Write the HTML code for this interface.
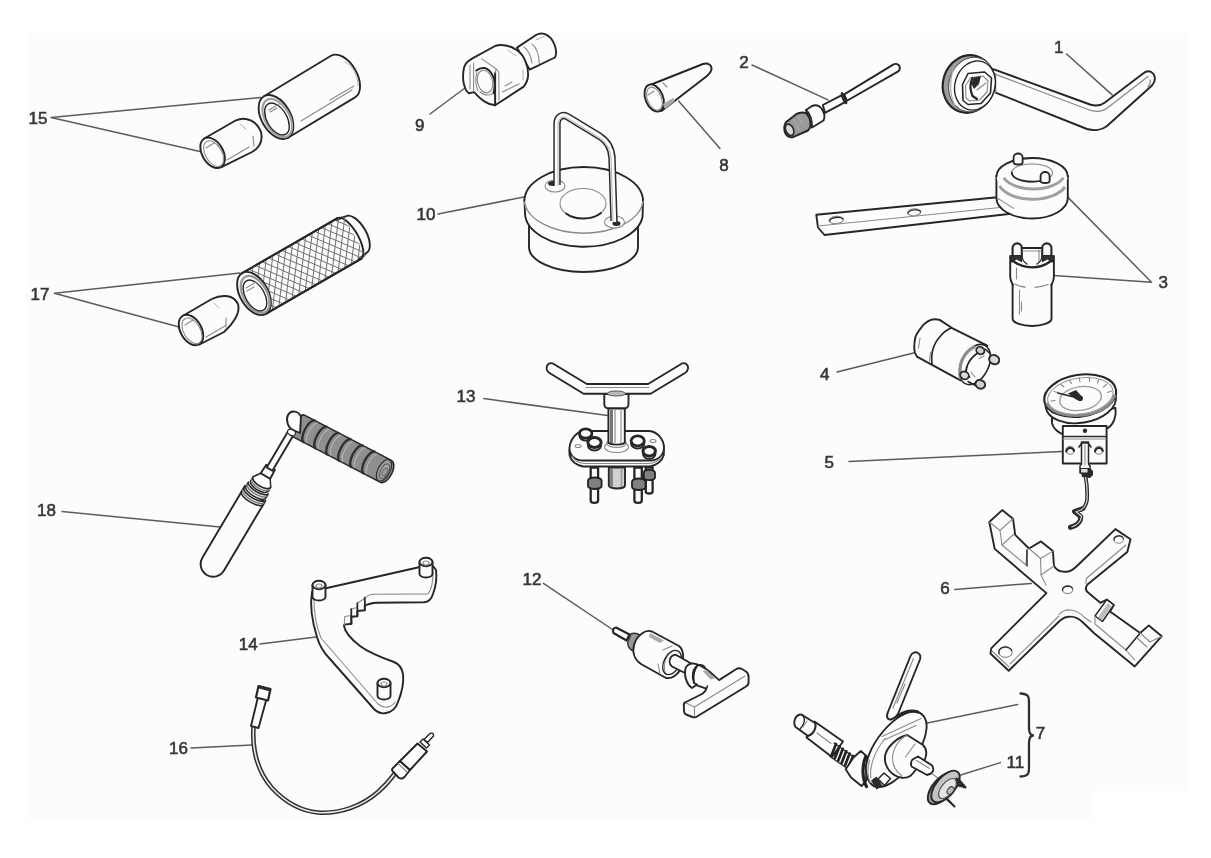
<!DOCTYPE html>
<html><head><meta charset="utf-8"><title>Workshop service tools</title>
<style>
html,body{margin:0;padding:0;background:#fff;}
body{width:1211px;height:858px;overflow:hidden;position:relative;font-family:"Liberation Sans",sans-serif;}
#panel{position:absolute;left:27px;top:33px;width:1160px;height:786px;background:#fcfcfc;clip-path:polygon(0 0,100% 0,100% 758px,1066px 758px,1066px 100%,0 100%);}
svg{position:absolute;left:0;top:0;filter:blur(0.5px);}
.k{fill:none;stroke:#262626;stroke-width:1.9;stroke-linecap:round;stroke-linejoin:round;}
.kf{fill:#fcfcfc;stroke:#262626;stroke-width:1.9;stroke-linecap:round;stroke-linejoin:round;}
.kt{fill:none;stroke:#303030;stroke-width:1.2;stroke-linecap:round;stroke-linejoin:round;}
.ktf{fill:#fcfcfc;stroke:#303030;stroke-width:1.2;stroke-linecap:round;stroke-linejoin:round;}
.g{fill:none;stroke:#8a8a8a;stroke-width:1.1;stroke-linecap:round;stroke-linejoin:round;}
.gf{fill:#fcfcfc;stroke:#8a8a8a;stroke-width:1.1;}
.gl{fill:none;stroke:#b0b0b0;stroke-width:1;stroke-linecap:round;}
.ld{fill:none;stroke:#5c5c5c;stroke-width:1.5;stroke-linecap:round;}
.d{fill:#2a2a2a;stroke:none;}
.gr{fill:#8f8f8f;stroke:#262626;stroke-width:1.6;stroke-linejoin:round;}
text{font-family:"Liberation Sans",sans-serif;font-size:17px;fill:#383838;stroke:#383838;stroke-width:0.6;}
</style></head><body>
<div id="panel"></div>
<svg width="1211" height="858" viewBox="0 0 1211 858">
<!-- 00_labels.svg -->
<g id="labels">
<text x="28.5" y="124.4">15</text>
<text x="30.5" y="299.6">17</text>
<text x="37" y="515.6">18</text>
<text x="238.8" y="650">14</text>
<text x="169" y="753.5">16</text>
<text x="415" y="130.5">9</text>
<text x="416.5" y="219.5">10</text>
<text x="719.2" y="171">8</text>
<text x="739.2" y="68">2</text>
<text x="1054" y="52.8">1</text>
<text x="1158.4" y="287.6">3</text>
<text x="820" y="379.5">4</text>
<text x="824.5" y="468.3">5</text>
<text x="940.3" y="594.2">6</text>
<text x="1035.8" y="739.1">7</text>
<text x="1006.5" y="767.6">11</text>
<text x="522.5" y="584.7">12</text>
<text x="456.5" y="401.6">13</text>
</g>
<g id="leaders" class="ld">
<path d="M51,117.4 L261,97.5 M51,117.4 L200,151.5"/>
<path d="M54.4,293.2 L240,273 M54.4,293.2 L179,327"/>
<path d="M62,511.4 L220,527"/>
<path d="M260,644 L316,637"/>
<path d="M191,748 L252,745"/>
<path d="M430,114 L465,88"/>
<path d="M438,214 L524,197"/>
<path d="M678.6,101 L720,148.5"/>
<path d="M752,65 L828,99.9"/>
<path d="M1066.6,54 L1112.2,94.9"/>
<path d="M1151.5,282.2 L1054,275.5 M1151.5,282.2 L1068,197.4"/>
<path d="M837,372 L915.5,352.4"/>
<path d="M849,461.5 L1061.8,451.6"/>
<path d="M954.8,589.4 L1031.3,583.4"/>
<path d="M927.3,723 L1017.7,704.4"/>
<path d="M960.8,775 L1000.4,762.6"/>
<path d="M543.4,583.4 L614,630.5"/>
<path d="M483.9,398.6 L607.6,415.5"/>
</g>
<path class="kt" style="stroke-width:2.3" d="M1020.5,693.5 C1029,694 1029,697 1029,703 L1029,728 C1029,733 1030,735 1033,735.5 C1030,736 1029,738 1029,743 L1029,767 C1029,773 1029,776 1020.5,776.5"/>

<!-- 01.svg -->
<g id="t01">
<!-- handle -->
<path class="kf" d="M992.5,68.8 L1090,104.5 C1096,106.5 1101,105.5 1105,102.5 L1143,73.5 C1147,70.5 1151,71 1153.5,74 C1155.5,77.5 1155,82 1152,85.5 L1107,126 C1102,130 1094,131 1087,129 L995.5,92.6 Z"/>
<path class="g" d="M996.4,74.7 L1088,109.5 C1096,112.5 1103,111.5 1108,107.5 L1148,76.5 M1150,80 C1151,83 1150,85 1148,87 M995.5,73.7 L995.5,92.6" style="stroke-width:1.3"/>
<!-- ring head -->
<ellipse cx="968.5" cy="84" rx="25.5" ry="29" transform="rotate(17 968.5 84)" style="fill:#9c9c9c;stroke:#262626;stroke-width:2.2"/>
<ellipse cx="972" cy="84.5" rx="23" ry="27.5" transform="rotate(17 972 84.5)" style="fill:#fcfcfc;stroke:#555;stroke-width:1.1"/>
<path class="g" d="M957,63 C950,72 948,92 955,106 " style="stroke:#aaa"/>
<ellipse class="k" cx="975" cy="85.5" rx="20" ry="25" transform="rotate(17 975 85.5)" style="stroke-width:1.4"/>
<!-- hex hole -->
<path class="kf" d="M968,73.5 L984.5,72 L991.5,78 L990.5,93 L981,103.5 L968,104.5 L963,100.5 L962.5,84.5 Z" style="stroke-width:1.6"/>
<path class="g" d="M971,77.5 L983,76 L988,81 L987,92 L979.5,100 L969.5,101 L966,98 L965.5,85.5 Z"/>
<path class="k" d="M972.5,78 C970,83 970,90 972.5,96 L977,99" style="stroke-width:2.2"/>
<path class="d" d="M973.5,77.5 L981,76 L979,84 L974,89 L971.5,84 Z"/>
<path class="g" d="M977,90 L986,83"/>
</g>

<!-- 02.svg -->
<g id="t02">
<!-- upper rod -->
<path class="kf" d="M844.2,94.4 L893.6,64.4 C896,63.2 898.6,64 899.6,66.5 C900.2,68.5 899.6,70.3 898.2,71.4 L847,100.8 Z"/>
<!-- lower rod -->
<path class="kf" d="M822.8,105 L841.4,95.4 L844.6,102.3 L825,112.8 Z"/>
<path class="k" d="M842,93.5 C844.5,96 846,99.5 846,103" style="stroke-width:2.6"/>
<!-- collar -->
<path class="kf" d="M806,110 L812,106 C816,104.5 820,106 822.5,110 C824.5,113.5 825,117.5 823.5,120.5 L812,127.5 Z"/>
<!-- thread -->
<path d="M786.1,122 L796.2,114.2 C799,112.5 803,112.3 806,113 C809,116 811,121 810.5,126 C810,128 809,129.5 808,130.5 L793,137.2 C790,137.8 787,136 785.5,133.5 C784,130 784,125 786.1,122 Z" style="fill:#9a9a9a;stroke:#262626;stroke-width:2;stroke-linejoin:round"/>
<path class="k" d="M806,110 C810,113 812.5,120 812,127.5" style="stroke-width:1.6"/>
<ellipse cx="789.6" cy="129.8" rx="3.8" ry="6" transform="rotate(-25 789.6 129.8)" style="fill:#d8d8d8;stroke:#262626;stroke-width:1.6"/>
<path class="gl" d="M798,117 L803,125 M794,120 L799,129"/>
</g>

<!-- 03.svg -->
<g id="t03">
<!-- bar -->
<path class="kf" d="M816.3,214.8 L1000,197 L1013,213.5 L824.5,235 L818,227.5 Z"/>
<path class="g" d="M818,226 L1010,206.5"/>
<ellipse class="gf" cx="836.2" cy="220" rx="7.2" ry="3.6" transform="rotate(-5 836.2 220)"/>
<ellipse class="gf" cx="914.2" cy="212.3" rx="6.6" ry="3.4" transform="rotate(-5 914.2 212.3)"/>
<path class="k" d="M829.5,221 A7.2,3.6 -5 0 1 843,219" style="stroke-width:1.2"/>
<path class="k" d="M908,213.2 A6.6,3.4 -5 0 1 920.5,211.5" style="stroke-width:1.2"/>
<!-- ring head -->
<path class="kf" d="M996.4,176 L996.4,198 A35.7,20.5 0 0 0 1067.8,198 L1067.8,176 Z"/>
<path class="g" d="M1013.7,208.4 L998,198.5" />
<ellipse cx="1032.1" cy="176" rx="35.7" ry="18.3" style="fill:#fcfcfc;stroke:none"/>
<path class="k" d="M996.4,176.5 A35.7,18.5 0 0 1 1067.8,176.5"/>
<path d="M1003.8,177.7 A31.4,16.6 0 0 0 1063.3,177.7" style="fill:none;stroke:#a0a0a0;stroke-width:2.8"/>
<path d="M999.5,186 A35.3,20.5 0 0 0 1065,187" style="fill:none;stroke:#a0a0a0;stroke-width:3"/>
<ellipse cx="1032.1" cy="172.8" rx="20.5" ry="9" style="fill:#fcfcfc;stroke:#999;stroke-width:1.3"/>
<path class="k" d="M1011.8,172.5 A20.5,9 0 0 0 1044,180" style="stroke-width:1.8"/>
<!-- pins -->
<path class="kf" d="M1013.6,162.5 L1013.6,157.5 A4.5,4 0 0 1 1022.6,157.5 L1022.6,162.5 A4.5,2 0 0 1 1013.6,162.5" style="stroke-width:1.8"/>
<path class="kf" d="M1040.6,181 L1040.6,176 A4.5,4 0 0 1 1049.6,176 L1049.6,181 A4.5,2 0 0 1 1040.6,181" style="stroke-width:1.8"/>
<!-- socket -->
<path class="kf" d="M1012.6,282 L1012.6,319 A19.5,7.5 0 0 0 1051.5,319 L1051.5,282 Z"/>
<path d="M1010.2,256 L1010.2,277 C1010.2,280 1011.5,282.5 1012.6,284.5 L1051.5,284.5 C1052.8,282.5 1053.9,280 1053.9,277 L1053.9,256 Z" style="fill:#fcfcfc;stroke:none"/>
<path class="k" d="M1010.2,256 L1010.2,277 C1010.2,280 1011.5,282.5 1013,285 M1053.9,256 L1053.9,277 C1053.9,280 1052.8,282.5 1051.2,285"/>
<path class="g" d="M1015,284 C1018,285.8 1021,286.6 1025,287 M1035,287.3 C1040,287 1044,286.2 1048,284.5" style="stroke-width:1.3"/>
<!-- prongs & top -->
<path class="kf" d="M1012.6,258 L1012.6,248 A4.6,4.6 0 0 1 1021.8,248 L1021.8,258" style="stroke-width:2.1"/>
<path class="kf" d="M1042.2,258 L1042.2,248 A4.6,4.6 0 0 1 1051.4,248 L1051.4,258" style="stroke-width:2.1"/>
<path class="k" d="M1021.8,248 L1042.2,248" style="stroke-width:2"/>
<path class="g" d="M1023,251 L1041,251 M1039,250 L1039,262"/>
<path d="M1011,255.5 L1021.5,255.5 L1021.5,261.5 L1016,258.5 L1013,262 L1011,262 Z M1053,255.5 L1042.5,255.5 L1042.5,261.5 L1048,258.5 L1051,262 L1053,262 Z" style="fill:#333;stroke:#262626;stroke-width:1.2;stroke-linejoin:round"/>
<path class="k" d="M1014.5,262 C1020,266 1026,267.3 1032,267.3 C1038,267.3 1044,266 1049.5,262" style="stroke-width:2.2"/>
<path class="k" d="M1021.5,256 C1022,259 1024,262 1027,264 M1042.5,256 C1042,259 1040,262 1037,264" style="stroke-width:1.4"/>
<path class="g" d="M1016.5,268 L1016.5,279 M1019.5,290 L1019.5,314 M1021.5,302 L1021.5,311"/>
</g>

<!-- 04.svg -->
<g id="t04">
<path class="kf" d="M939.7,319.9 C936,319 933,319.2 930.8,319.9 C926,322 923,325 921.8,326.8 C917.5,332 915,336 914.9,339.7 C914,345 914,349 914.9,352.6 L916.9,356.6 L960.5,380.4 L987.3,345.7 L951.6,327.8 Z"/>
<path class="k" d="M951.6,327.8 C946,330 943,333 940.7,335.8 C936,341 934,345 932.8,349.6 C931.5,354 931.3,358 931.8,363.5" style="stroke-width:1.7"/>
<path class="g" d="M930.5,352 L929.5,361 M920,338 L918.5,348"/>
<!-- front ring -->
<ellipse class="kf" cx="975" cy="364.5" rx="13.5" ry="21.5" transform="rotate(27 975 364.5)" style="stroke-width:1.6"/>
<path d="M975,346.5 C970,349 966.5,352.5 964.5,355.6 C961.5,360 960.3,364 960,369.5 C959.8,373 960,376 960.7,379.4" style="fill:none;stroke:#8c8c8c;stroke-width:3.2"/>
<path class="k" d="M981,352.5 L977,353.5 C972,357 969,361 967.5,365 C966,369 965.5,372 966,375 L969.5,377" style="stroke-width:1.8"/>
<path class="g" d="M984,356 L979,358.5 M971,372 L975,377"/>
<!-- pins -->
<ellipse cx="980.3" cy="350.6" rx="4.2" ry="3.6" transform="rotate(27 980.3 350.6)" style="fill:#cfcfcf;stroke:#2a2a2a;stroke-width:1.8"/>
<ellipse cx="994.2" cy="359.6" rx="5.2" ry="4.4" transform="rotate(27 994.2 359.6)" style="fill:#d8d8d8;stroke:#2a2a2a;stroke-width:2"/>
<ellipse cx="964.5" cy="375.4" rx="4.4" ry="3.8" transform="rotate(27 964.5 375.4)" style="fill:#d8d8d8;stroke:#2a2a2a;stroke-width:1.8"/>
<ellipse cx="980.3" cy="384.3" rx="5" ry="4.2" transform="rotate(27 980.3 384.3)" style="fill:#cfcfcf;stroke:#2a2a2a;stroke-width:2"/>
<path class="k" d="M985,349 L990.5,354 M968,381.5 L975.5,385.5" style="stroke-width:1.6"/>
</g>

<!-- 05.svg -->
<g id="t05">
<!-- back housing -->
<path class="kf" d="M1052,418 C1051,424 1054,430 1062,434 L1108,428 C1114,424 1116.5,416 1115.5,408 Z"/>
<!-- dial body rim -->
<ellipse class="kf" cx="1080.8" cy="401.8" rx="35.5" ry="21" transform="rotate(-9 1080.8 401.8)"/>
<ellipse class="kf" cx="1080.2" cy="395.6" rx="36.3" ry="20.8" transform="rotate(-9 1080.2 395.6)" style="stroke-width:2.1"/>
<path d="M1046.5,403 C1052,414 1072,418.5 1092,413.5 C1104,410 1112,403 1115,395" style="fill:none;stroke:#888;stroke-width:3"/>
<ellipse cx="1080.4" cy="396" rx="33" ry="18" transform="rotate(-9 1080.4 396)" style="fill:none;stroke:#999;stroke-width:1.1"/>
<ellipse class="g" cx="1080.5" cy="398.5" rx="21" ry="11.8" transform="rotate(-9 1080.5 398.5)" style="stroke:#999;stroke-width:1.3"/>
<!-- ticks -->
<path class="g" d="M1051,401 L1055,400.5 M1054,391.5 L1058,392.5 M1061,384.5 L1064,387 M1069.5,380 L1071.5,383.5 M1079,377.5 L1080,382 M1089.5,377 L1089.5,381.5 M1099,379.5 L1097.5,383 M1106.5,384.5 L1103.5,387 M1111.5,391 L1107.5,392.5"/>
<!-- needle -->
<path class="k" d="M1057.7,393 L1080,398.5" style="stroke-width:1.5"/>
<path class="d" d="M1068,393.5 L1076,390 L1080,394.5 L1083,398 L1081.5,401 L1076,399.5 Z"/>
<circle class="d" cx="1080" cy="398.3" r="2.8"/>
<!-- block -->
<path class="kf" d="M1062.8,426 L1106.6,426 L1106.6,463.5 L1062.8,463.5 Z"/>
<path class="k" d="M1062.8,436.5 L1106.6,436.5" style="stroke-width:1.3"/>
<path class="g" d="M1063,439 L1106,439"/>
<circle class="d" cx="1085" cy="430.7" r="2.2"/>
<circle class="g" cx="1070.1" cy="450.2" r="4"/>
<circle class="g" cx="1098.9" cy="450.2" r="4"/>
<path class="k" d="M1066.2,451.5 A4,4 0 0 1 1074,451 M1095,451.5 A4,4 0 0 1 1102.8,451" style="stroke-width:2"/>
<!-- stem -->
<path class="kf" d="M1081.5,442 L1088.5,442 L1088.5,464 L1090,466 L1090,473 L1080,473 L1080,466 L1081.5,464 Z" style="stroke-width:1.5"/>
<path class="k" d="M1079,447 L1082,443 L1088,443 L1091,447" style="stroke-width:1.6"/>
<path class="g" d="M1085,445 L1085,465"/>
<path class="d" d="M1080,468 L1090,468 L1093,471 L1093,475 L1090,478 L1082,477 Z"/>
<path class="kf" d="M1081,468.5 L1088,468.5 L1088,473 L1081,473 Z" style="stroke-width:1;fill:#ddd"/>
<!-- probe -->
<path d="M1085.5,476 C1087,484 1087.5,492 1087,500 C1086.3,505 1084,508 1081,510 L1074.5,511.5 L1080.8,516.6 C1081,521 1078,525.5 1070.5,527.3" style="fill:none;stroke:#2a2a2a;stroke-width:3.8;stroke-linejoin:round;stroke-linecap:round"/>
<path d="M1083,508.5 L1074.5,511.5 L1080.8,516.6 C1081,521 1078,525.5 1070.5,527.3" style="fill:none;stroke:#2a2a2a;stroke-width:5;stroke-linejoin:round;stroke-linecap:round"/>
<path d="M1085.5,477 C1087,484 1087.5,492 1087,500 C1086.3,505 1084,508 1081,510 L1076,511.8 L1081.5,516.3 C1081,521 1078,525 1071.5,527" style="fill:none;stroke:#d8d8d8;stroke-width:1.2;stroke-linejoin:round"/>
</g>

<!-- 06.svg -->
<g id="t06">
<!-- main outline -->
<path class="kf" d="M989.3,522 L1002.2,510.1 L1013,518.7 L1015.2,534.9 L1029,548.5 L1041,541.4 L1052.9,551.1 L1054,566 C1057,571 1062,572.5 1068,571.5 C1072,571 1075,568 1078,565 L1115.4,529.1 L1130.5,539.2 L1127.3,552.1 L1087.5,584.5 C1085.5,587 1085.5,590 1087.5,592 L1100.3,602.8 L1106.8,599.6 L1113.8,605 L1110,611.4 L1140.2,633 L1148.8,625.4 L1161.8,636.2 L1134.8,666.4 L1093.9,633 L1083,622.5 C1078,617.5 1072,616 1067,617 C1063,617.5 1060.5,620 1058,622.5 L1008.7,670.7 L990.4,653.5 L991.4,648.1 L1046.4,593.1 L994.7,548.9 Z"/>
<!-- block 1 inner lines -->
<path class="g" d="M989.3,522 L1000,530.5 L1013,518.7 M1000,530.5 L1002,545 L1026,565 L1027,550"/>
<path class="k" d="M1027,550 L1027,566" style="stroke-width:1.4"/>
<path class="g" d="M1002,545 L1014,534"/>
<!-- block 2 -->
<path class="g" d="M1029,548.5 L1040.5,558.5 L1052.9,551.1 M1040.5,558.5 L1041,575 L1054,566 M1041,575 L1046,585"/>
<!-- arm inner highlight lines -->
<path class="g" d="M1126,545 L1088,577 C1086,579 1085.5,581 1086,584 M1059,614.5 C1062,611 1066,609.5 1071,610 C1076,610.5 1080,613 1084,617 L1091,622"/>
<path class="g" d="M1010,664 L1059,616 M992,651 L1009,667"/>
<!-- lower right block -->
<path class="kf" d="M1095,616 L1106.8,599.6 L1113.8,605 L1102.5,621.5 Z" style="stroke-width:1.5"/>
<path d="M1098,617 L1108,603 L1111.5,606 L1102,620 Z" style="fill:#bdbdbd;stroke:none"/>
<path class="g" d="M1095,616 L1095,624 L1126,650 L1140.2,633 M1126,650 L1134.8,660"/>
<path class="k" d="M1126,650 L1140.2,633" style="stroke-width:1.4"/>
<path class="g" d="M1140.2,633 L1150,642 L1161.8,636.2 M1137,638 L1147,647"/>
<!-- holes -->
<ellipse class="gf" cx="1067.6" cy="589.6" rx="5.2" ry="4"/>
<path class="k" d="M1062.6,590.5 A5.2,4 0 0 1 1072.5,588.5" style="stroke-width:1.2"/>
<ellipse class="gf" cx="1118.7" cy="539.4" rx="4.8" ry="3.8"/>
<path class="k" d="M1114,540 A4.8,3.8 0 0 1 1123.2,538.3" style="stroke-width:1.2"/>
<ellipse class="gf" cx="1005.5" cy="652.4" rx="6.6" ry="5"/>
<path class="k" d="M999,653.5 A6.6,5 0 0 1 1011.8,650.5" style="stroke-width:1.3"/>
</g>

<!-- 07.svg -->
<g id="t07">
<!-- lever -->
<path class="kf" d="M888,712 L910.5,656 C912,652.5 915.5,651.5 918,653 C920.5,654.5 920.8,657 920,659.5 L898,714 C895,719 889,721 887.5,718 C886.5,716 887,714 888,712 Z"/>
<path class="g" d="M893,708 L913.5,658.5 M897,703 L905,684"/>
<!-- left shaft: large section -->
<path class="kf" d="M814.5,721.5 L843,741.5 L832,757 L806.5,737.5 Z"/>
<path class="g" d="M817,733 L831,743.5"/>
<!-- small end -->
<path class="kf" d="M802.6,715.2 L815,723 C817,727 814,734 808,736 L795.5,727 C793.5,724 794,719 796.5,716.5 C798.5,714.5 801,714.3 802.6,715.2 Z"/>
<path class="k" d="M802.6,715.2 C805.5,718 805,724 800,729" style="stroke-width:1.3"/>
<path class="g" d="M807,721 L803,727"/>
<!-- spring -->
<path d="M836,744 L831.5,755.5 M839.4,746.4 L834.9,758 M842.8,748.8 L838.3,760.4 M846.2,751.2 L841.7,762.8 M849.6,753.6 L845.1,765.2 M853,756 L848.5,767.6" style="fill:none;stroke:#222;stroke-width:2.7;stroke-linecap:round"/>
<path class="k" d="M834,743 L854.5,757.5 M830,756.5 L848,769" style="stroke-width:1.2"/>
<!-- block -->
<path class="kf" d="M853.5,757.5 L860.8,751 L867,756.5 L866,781 L861.5,786 L851,777.5 L845.7,769.3 Z"/>
<!-- disc plate -->
<path class="kf" d="M866.4,774 C864,764 870,747 883,731.5 C894,718.5 906,711 915,711.5 C923,712.5 927.5,719 926.5,728.5 C925.5,740 918,756 908,768 C898,780 886,788 877,787 C871.5,786 867.8,781.5 866.4,774 Z"/>
<path class="k" d="M897.5,716.5 C903,711.5 911,709.5 918,712" style="stroke-width:3"/>
<path class="g" d="M882,736.5 L921,718.5 M883,740.5 L916,725.5 M871,778 C869,768 874,752 885,738.5"/>
<path d="M865.5,757 C862,766 862,778 866.5,786.5" style="fill:none;stroke:#222;stroke-width:3.2;stroke-linecap:round"/>
<path class="g" d="M869.5,760 C867.5,767 867.5,776 870,783"/>
<!-- boss -->
<path class="kf" d="M885.5,754 C888,746 897,737.5 907.2,735 L923,745 C926.5,748.5 927,754 925,759 L911,775.5 C906,779 899,778.5 893.5,774.5 C886.5,769.5 883.5,761 885.5,754 Z"/>
<path class="g" d="M907.2,735 C898,740 892.5,749.5 892.5,758 C892.5,765.5 896,771.5 901.5,775.5 M915,744 L905.5,757"/>
<!-- small shaft -->
<path class="kf" d="M912.5,759.5 L918,756.5 L931.5,765 C934,767 934,771.5 931,773.5 L927,775 L911.5,766.5 C910.5,764 911,761.5 912.5,759.5 Z"/>
<path class="g" d="M916.5,760.5 L929.5,768.5"/>
<!-- bottom tabs -->
<path class="kf" d="M878,779 L884,773 L890.5,778.5 L884.5,785.5 Z" style="stroke-width:1.5"/>
<path class="d" d="M871,780.5 L876.5,776.5 L882.5,786 L876.5,789.5 Z"/>
<!-- link -->
<path class="g" d="M932.5,774 L938,778"/>
<!-- disc 11 -->
<ellipse class="kf" cx="942" cy="788.5" rx="9.5" ry="19" transform="rotate(40 942 788.5)" style="fill:#9a9a9a"/>
<ellipse class="kf" cx="945.5" cy="786.5" rx="9.5" ry="19" transform="rotate(40 945.5 786.5)" style="fill:#c4c4c4"/>
<ellipse cx="947.5" cy="788.5" rx="6" ry="12" transform="rotate(40 947.5 788.5)" style="fill:#e4e4e4;stroke:#555;stroke-width:1.2"/>
<ellipse cx="950.5" cy="790.5" rx="2.8" ry="4.2" transform="rotate(40 950.5 790.5)" style="fill:#bbb;stroke:#333;stroke-width:1"/>
<path class="d" d="M955.5,779.5 L965,788 L957.5,786.5 Z M957.5,776.5 L966.5,787 L963,788.5 Z M945.5,799.5 L954.5,807 L950,800.5 Z"/>
<path class="k" d="M956.5,778.5 L965.5,787.5 M946.5,798.5 L954.5,806.5" style="stroke-width:2"/>
</g>

<!-- 08.svg -->
<g id="t08">
<path class="kf" d="M647.5,86 L703,64 C708,62.5 712,65 711.5,69.5 C711,72 709.5,74 707,76 L661.5,111 Z"/>
<ellipse class="kf" cx="654.2" cy="98" rx="8.8" ry="14.2" transform="rotate(-22 654.2 98)"/>
<ellipse class="g" cx="654.4" cy="98.6" rx="7" ry="12" transform="rotate(-22 654.4 98.6)"/>
<path class="g" d="M648,95 L654,91 M663,83 L667,87"/>
<path d="M663,104 L673,98 L675,101 L665,109 Z" style="fill:#aaa;stroke:none"/>
</g>

<!-- 09.svg -->
<g id="t09">
<!-- stub -->
<path class="kf" d="M517,47.6 L536,35 C539,33.3 542,33.3 544.4,33.9 C549,35.5 553,40 555,46 C556.5,51 556.5,55 554.9,57.5 L529.7,69.6 Z"/>
<path class="g" d="M531.8,43.9 C536,47 539,54 539.2,63.8 M524,47 C528,50 531,56 532,63"/>
<path class="gl" d="M536,40 L545,36"/>
<!-- main body -->
<path class="kf" d="M464.2,67 C465.5,63 468.5,60.5 472,58.6 L495.1,46 C498.5,44.8 502,44.8 505.6,45.5 C510,46.3 514,48 517.1,50.2 C521,53 524,57 525.5,61.7 C527.5,66 528.3,71 528.1,75.4 C527.8,80 526,84 523.4,86.9 L495.1,105.2 C491,104.8 487.5,103.5 484.6,101.6 C480.5,99 477,95.5 474.1,92.1 L468.9,93.2 C466.5,91.5 465.3,89.5 464.7,86.9 C463.3,83 462.8,79 463.1,75.4 C463.2,72 463.5,69.5 464.2,67 Z"/>
<!-- front face details -->
<path class="k" d="M495.1,105.2 L495.1,73 " style="stroke-width:2"/>
<path class="g" d="M470,65 L470,89 M473.6,63 L473.6,91 M481.5,58.6 L496.2,69 L498.8,72 L499,100 M496.2,69 L495.1,73"/>
<path class="k" d="M476.2,70.5 C479,68.3 482,67.6 484.6,68 C488,69 490.5,71.5 492,74.3 C493.8,77 494.6,80.5 494.6,83.7 C494.8,87 494.3,90.5 493.5,93.2" style="stroke-width:2"/>
<ellipse class="g" cx="485" cy="81.6" rx="7.5" ry="11.5" transform="rotate(-14 485 81.6)"/>
<path class="g" d="M477,72 C475.5,77 475.5,85 478,91 M480,92 C483,95 488,96 492,94"/>
<path class="g" d="M502.4,92.1 L519.2,83.7 M505,86 L512,82"/>
<path class="gl" d="M508,50 L516,56 M523,70 L523,80"/>
</g>

<!-- 10.svg -->
<g id="t10">
<!-- lower cylinder -->
<path class="kf" d="M529,222 L529,247 A54.5,25 0 0 0 638,247 L638,222 Z"/>
<!-- top disc rim -->
<path class="kf" d="M524.5,200 L525,214 A59,34 0 0 0 642.5,217 L643,203 Z"/>
<ellipse cx="583.7" cy="201" rx="59.3" ry="34" style="fill:#fcfcfc;stroke:none"/>
<path class="k" d="M524.4,201 A59.3,34 0 0 1 643,201"/>
<path class="g" d="M524.6,202 A59.3,34 0 0 0 642.8,202" style="stroke-width:1.4"/>
<!-- center hole -->
<ellipse class="g" cx="583" cy="203.5" rx="23" ry="15"/>
<path class="k" d="M566,213.5 A23,15 0 0 0 601,213" style="stroke-width:2"/>
<!-- handle sockets -->
<ellipse class="gf" cx="555" cy="186" rx="10" ry="6"/>
<ellipse class="d" cx="553" cy="183.5" rx="5" ry="2.5"/>
<ellipse class="gf" cx="614.5" cy="222" rx="10" ry="6"/>
<ellipse class="d" cx="616.5" cy="223.5" rx="4" ry="2.5"/>
<!-- handle -->
<path d="M557,185 L557,124 C557,117 562,113.5 568,117 L600,136.5 C607,141 611.5,148 612,158 L614,221" style="fill:none;stroke:#2a2a2a;stroke-width:7.4;stroke-linecap:butt;stroke-linejoin:round"/>
<path d="M557,186 L557,124 C557,117 562,113.5 568,117 L600,136.5 C607,141 611.5,148 612,158 L614,222" style="fill:none;stroke:#fcfcfc;stroke-width:4.4;stroke-linecap:butt;stroke-linejoin:round"/>
<path d="M558,186 L558,124 C558,118 562,115 568,118.5 L600,138 C606,142 610.5,149 611,158 L613,222" style="fill:none;stroke:#aaa;stroke-width:0.9"/>
</g>

<!-- 12.svg -->
<g id="t12">
<!-- tip -->
<path class="kf" d="M616,627.5 L629.5,634.5 L626.5,640.5 L613.5,633 C612,631 613.5,627.5 616,627.5 Z" style="stroke-width:2.2"/>
<!-- collar -->
<path d="M631,634 C635,632 640,634 643,638 L637,652 C632,652 628,648 627.5,643 Z" style="fill:#999;stroke:#333;stroke-width:1.4"/>
<!-- main body -->
<path class="kf" d="M642,633.5 C645,631 649,630.5 652,631.5 L679,646 C684,650 684.5,660 681,668 C678,675 672,679 666,678 L641,664 C635,660 632,653 634,645 C635.5,640 638,636 642,633.5 Z"/>
<path d="M650,633 L664,640.5 L660,643 L649,637 Z" style="fill:#aaa;stroke:none"/>
<path class="g" d="M663,650 L672,646 M658,664 L660,674 M668,655 C664,660 663,668 666,675"/>
<!-- end ellipse + stem -->
<ellipse class="k" cx="672" cy="662.5" rx="8" ry="13" transform="rotate(28 672 662.5)" style="stroke-width:1.4"/>
<path class="kf" d="M671,657 C673,654.5 676,654.5 678,656 L692,664 L687,674 L672,666.5 C669,664 669,660 671,657 Z"/>
<!-- T stem + bar -->
<path class="kf" d="M697,664.5 C704,665.5 711,673 719.1,680.1 L736,669.3 C738,668 740,668 742,669 L746,671.5 C748,673 748.6,675 748.6,677 L748.6,682 C748.6,684 748,685.5 746,686.5 L697,716.5 C695.5,717.6 694,717.6 692.5,717 L686,714.5 C684.5,713.7 684,712.5 684,711 L683.8,705 C683.8,703.5 684.5,702.5 686,702 L700,695 C703,693.5 705.5,691.5 706.3,688.7 L689.6,682.9 Z"/>
<path class="k" d="M706.3,688.7 L707.5,686" style="stroke-width:1.6"/>
<path class="g" d="M686,703 L694.5,707 L745,676 M694.5,707 L694.5,716"/>
<path d="M702.5,671 L707,670 L715,678.5 L710.5,679.5 Z" style="fill:#aaa;stroke:none"/>
<!-- hex collar (front) -->
<path class="kf" d="M686,667 C689,663 694,662.5 698,665 C694.5,668 692.5,675 694,683 L697,684.5 L692,688 C686,684 683.5,674 686,667 Z"/>
<path class="k" d="M694,683 C691,676 692.5,668.5 698,665 C701,664.5 703.5,665.5 705,667" style="stroke-width:1.5"/>
</g>

<!-- 13.svg -->
<g id="t13">
<!-- handle bar -->
<path class="kf" d="M552.5,363.3 L586.8,384 L648.1,384 L682.4,363.3 C685.5,362.5 688.5,365 688,368.5 C687.5,371 686.5,372.3 685,373 L650.6,393.8 L583.6,393.8 L549.5,373 C547,371.5 546,368.5 547,366 C548,363.8 550.5,362.8 552.5,363.3 Z"/>
<path class="g" d="M586,387.5 L649,387.5"/>
<!-- hub -->
<path class="kf" d="M604.3,394 L604.3,404 C604.3,407 606,408.5 609,408.5 L624,408.5 C627,408.5 628.5,407 628.5,404 L628.5,394 Z"/>
<ellipse cx="616.4" cy="393.5" rx="9" ry="2.5" style="fill:#bbb;stroke:#555;stroke-width:1"/>
<!-- plate -->
<path class="kf" d="M569.5,450 L569.5,455 C571,461 576,465 583,466.5 L650,466.5 C657,465 662,461 663.8,455 L663.8,450 Z"/>
<path class="kf" d="M585,431 L648,431 C657,431 664,439 664,448 C664,455 658,460.5 650,460.5 L583,460.5 C575,460.5 569,455 569.5,448 C570,439 577,431 585,431 Z"/>
<path class="g" d="M572,456 C574,460 578,463 584,463.5 L649,463.5 C655,463 660,460 662,456"/>
<!-- shaft -->
<ellipse class="g" cx="616.5" cy="447" rx="12" ry="5.5"/>
<ellipse class="g" cx="616.5" cy="443.5" rx="10" ry="4"/>
<path class="kf" d="M608.4,408.5 L608.4,442 A8.2,2.6 0 0 0 624.8,442 L624.8,408.5 Z"/>
<path d="M611.5,410 L611.5,443" style="fill:none;stroke:#777;stroke-width:3"/>
<path d="M615,410 L615,443.5" style="fill:none;stroke:#aaa;stroke-width:1.6"/>
<path class="g" d="M621,410 L621,443"/>
<!-- bolts -->
<g>
<ellipse class="kf" cx="585.7" cy="436" rx="6.2" ry="4.6"/><ellipse class="kf" cx="585.7" cy="433.5" rx="6.2" ry="4.6" style="stroke-width:2.8"/>
<ellipse class="kf" cx="594.5" cy="445.5" rx="6.6" ry="5"/><ellipse class="kf" cx="594.5" cy="442.5" rx="6.6" ry="5" style="stroke-width:3"/>
<ellipse class="kf" cx="637.7" cy="443.5" rx="6.6" ry="5"/><ellipse class="kf" cx="637.7" cy="440.8" rx="6.6" ry="5" style="stroke-width:2.8"/>
<ellipse class="kf" cx="649.2" cy="454" rx="6.2" ry="4.8"/><ellipse class="kf" cx="649.2" cy="451.2" rx="6.2" ry="4.8" style="stroke-width:3"/>
<ellipse class="g" cx="578" cy="446" rx="3" ry="1.5"/><ellipse class="g" cx="653" cy="441" rx="3" ry="1.5"/>
</g>
<!-- under -->
<path d="M608.8,467.5 L608.8,485.5 A8.1,3 0 0 0 625,485.5 L625,467.5 Z" style="fill:#d0d0d0;stroke:#262626;stroke-width:1.9"/>
<path d="M611.5,468 L611.5,487" style="fill:none;stroke:#777;stroke-width:2.6"/>
<path d="M621.5,468 L621.5,487" style="fill:none;stroke:#999;stroke-width:1.6"/>
<path class="kf" d="M590.7,467.5 L590.7,500.5 A3.7,2.4 0 0 0 598.1,500.5 L598.1,467.5 Z" style="stroke-width:2.3"/>
<path class="kf" d="M634.4,467.5 L634.4,500.5 A3.7,2.4 0 0 0 641.8,500.5 L641.8,467.5 Z" style="stroke-width:2.3"/>
<path class="kf" d="M645.8,467.5 L645.8,491.5 A3.4,2 0 0 0 652.6,491.5 L652.6,467.5 Z" style="stroke-width:2.3"/>
<path d="M588,480.5 L588,486 A6.8,3 0 0 0 601.6,486 L601.6,480.5 A6.8,3 0 0 0 588,480.5 Z M632,481.5 L632,487 A6.8,3 0 0 0 645.6,487 L645.6,481.5 A6.8,3 0 0 0 632,481.5 Z M643.8,472.5 L643.8,477.5 A5.6,2.6 0 0 0 655,477.5 L655,472.5 A5.6,2.6 0 0 0 643.8,472.5 Z" style="fill:#808080;stroke:#222;stroke-width:1.8;stroke-linejoin:round"/>
</g>

<!-- 14.svg -->
<g id="t14">
<path class="kf" d="M312,592 C310,604 311,618 317,637 C320,648 325,654 330,659 L374,709 C378,713 382,714 386,713 C392,712 396,708 398,702 C402,692 404,682 403,674 C402,668 399,664 394,662 C380,657 368,652 360,646 C351,639 345,632 344,626 L344.3,624.6 L351.5,623.8 L351.3,616.8 L357.4,616.2 L357.4,611 L364.8,610.2 L364.8,605.8 C368,603.8 372,602.9 377,602.7 L424,602.3 C428.5,602 431.5,599 433,594 C436,586 437,578 436,570 L433,566 L420,567 L327,588 Z"/>
<path class="g" d="M314,600 C314,612 316,626 321,638 L378,704 C384,709 391,708 395,702 M373,594.3 L428,593.9 C431.5,590 433,580 433,572"/>
<path class="g" d="M344.3,624.6 L344.8,616.5 L351.3,615.5 M351.3,616.8 L351.3,609 L357.4,607.5 M357.4,611 L357.4,603 L364.8,598.5 L364.8,605.8 M364.8,598.5 C367,595.5 370,594.5 373,594.3"/>
<path class="k" d="M364.8,597.5 L364.8,610.2 M357.4,603 L357.4,616.2 M351.3,609 L351.3,623.8" style="stroke-width:1.7"/>
<!-- pins -->
<path class="kf" d="M312.5,585 L312.5,597 A6.5,3.5 0 0 0 325.5,597 L325.5,585"/>
<ellipse class="kf" cx="319" cy="585" rx="6.5" ry="4.2" style="stroke-width:2"/>
<ellipse class="g" cx="319" cy="586" rx="3" ry="2"/>
<path class="kf" d="M419.5,562 L419.5,574 A6.5,3.5 0 0 0 432.5,574 L432.5,562"/>
<ellipse class="kf" cx="426" cy="562" rx="6.5" ry="4.2" style="stroke-width:2"/>
<ellipse class="g" cx="426" cy="563" rx="3" ry="2"/>
<path class="kf" d="M377.5,683 L377.5,696 A6.5,3.5 0 0 0 390.5,696 L390.5,683"/>
<ellipse class="kf" cx="384" cy="683" rx="6.5" ry="4.2" style="stroke-width:2"/>
<ellipse class="g" cx="384" cy="684" rx="3" ry="2"/>
</g>

<!-- 15.svg -->
<g id="t15">
<!-- large sleeve -->
<path class="kf" d="M264,96.2 L331,55.8 A14,24 -30 0 1 355,97.4 L288,137.8 Z"/>
<ellipse class="kf" cx="276" cy="117" rx="14.5" ry="24" transform="rotate(-30 276 117)"/>
<ellipse cx="277.3" cy="118" rx="12.2" ry="20.8" transform="rotate(-30 277.3 118)" style="fill:none;stroke:#a0a0a0;stroke-width:2.2"/>
<ellipse class="kf" cx="277" cy="119" rx="10" ry="17.5" transform="rotate(-30 277 119)" style="stroke-width:1.4"/>
<path class="g" d="M269,110 L279,104 M270,112 L277,108"/>
<path class="g" d="M301,121 L352,90 M330,100 L354,86" />
<path class="gl" d="M345,62 C353,66 358,76 358,86"/>
<!-- small sleeve -->
<path class="kf" d="M204.3,138.5 L236,120.3 C246,116 257,121 261,132 C263,141 259,148 252,152 L220.9,167.3 Z"/>
<ellipse class="kf" cx="212.6" cy="152.8" rx="10.5" ry="16.5" transform="rotate(-30 212.6 152.8)"/>
<ellipse class="g" cx="213.6" cy="153.6" rx="8.3" ry="14" transform="rotate(-30 213.6 153.6)"/>
<path class="g" d="M206,148 L214,143 M227,160 L249,147 M253,136 L254,146"/>
<path class="gl" d="M240,124 L246,129"/>
</g>

<!-- 16.svg -->
<g id="t16">
<path d="M253.5,727 C252,752 258,772 272,788 C286,803 300,811 318,812.5 C340,814 362,806 378,792 C385,786 390,780 394.5,774" style="fill:none;stroke:#303030;stroke-width:4.6;stroke-linecap:butt"/>
<path d="M253.5,727 C252,752 258,772 272,788 C286,803 300,811 318,812.5 C340,814 362,806 378,792 C385,786 390,780 394.5,774" style="fill:none;stroke:#e8e8e8;stroke-width:1.6;stroke-linecap:butt"/>
<!-- top connector -->
<path class="kf" d="M258,697 L251,726 L258.5,728 L266.5,699 Z"/>
<path class="kf" d="M258.5,686 L256,697.5 L268,700.5 L270.5,689 Z" style="stroke-width:2.2"/>
<path class="d" d="M258,685 L271,688.5 L270.3,691.5 L257.3,688 Z"/>
<!-- right connector -->
<path class="kf" d="M392.5,771 L398.5,777.5 C400.5,779 403,778.5 404.5,777 L410,770 L400,761 L394,767 C392,768.5 391.5,770 392.5,771 Z"/>
<path class="g" d="M398,763.5 L407,772"/>
<path class="kf" d="M400,761 L410,770 L427,751.5 L417.5,743.5 Z"/>
<path class="kf" d="M420,742 L426.5,748 L429.5,745 L423,739 Z" style="stroke-width:1.4"/>
<path class="kf" d="M424,739.5 L427.5,742.5 L433.5,736 C434,733.5 432,732.5 430,733.5 Z" style="stroke-width:1.4"/>
</g>

<!-- 17.svg -->
<g id="t17">
<clipPath id="knc"><path d="M245.7,271.1 L342.7,215.1 L366.2,255.9 L269.2,311.9 Z"/></clipPath>
<path class="kf" d="M242.2,273.1 L337.5,218.1 L361.0,258.9 L265.8,313.9 Z"/>
<path class="kf" d="M336.3,220.0 L345.7,216.3 A10,21.0 -30 0 1 366.7,252.7 L358.8,259.0"/>
<path class="k" d="M337.5,218.1 A9,23.5 -30 0 1 361.0,258.9"/>
<g clip-path="url(#knc)"><path d="M44.8,387.1 L98.8,410.2 M68.3,427.9 L75.3,369.5 M51.4,383.3 L105.4,406.4 M74.9,424.1 L81.9,365.7 M58.0,379.5 L112.0,402.6 M81.5,420.3 L88.5,361.9 M64.5,375.7 L118.6,398.8 M88.0,416.5 L95.1,358.1 M71.1,371.9 L125.2,395.0 M94.6,412.7 L101.7,354.3 M77.7,368.1 L131.7,391.2 M101.2,408.9 L108.2,350.5 M84.3,364.3 L138.3,387.4 M107.8,405.1 L114.8,346.7 M90.9,360.5 L144.9,383.6 M114.4,401.3 L121.4,342.9 M97.5,356.7 L151.5,379.8 M121.0,397.5 L128.0,339.1 M104.0,352.9 L158.1,376.0 M127.5,393.7 L134.6,335.3 M110.6,349.1 L164.6,372.2 M134.1,389.9 L141.1,331.5 M117.2,345.3 L171.2,368.4 M140.7,386.1 L147.7,327.7 M123.8,341.5 L177.8,364.6 M147.3,382.3 L154.3,323.9 M130.4,337.7 L184.4,360.8 M153.9,378.5 L160.9,320.1 M136.9,333.9 L191.0,357.0 M160.4,374.7 L167.5,316.3 M143.5,330.1 L197.6,353.2 M167.0,370.9 L174.1,312.5 M150.1,326.3 L204.1,349.4 M173.6,367.1 L180.6,308.7 M156.7,322.5 L210.7,345.6 M180.2,363.3 L187.2,304.9 M163.3,318.7 L217.3,341.8 M186.8,359.5 L193.8,301.1 M169.9,314.9 L223.9,338.0 M193.4,355.7 L200.4,297.3 M176.4,311.1 L230.5,334.2 M199.9,351.9 L207.0,293.5 M183.0,307.3 L237.0,330.4 M206.5,348.1 L213.5,289.7 M189.6,303.5 L243.6,326.6 M213.1,344.3 L220.1,285.9 M196.2,299.7 L250.2,322.8 M219.7,340.5 L226.7,282.1 M202.8,295.9 L256.8,319.0 M226.3,336.7 L233.3,278.3 M209.3,292.1 L263.4,315.2 M232.8,332.9 L239.9,274.5 M215.9,288.3 L270.0,311.4 M239.4,329.1 L246.5,270.7 M222.5,284.5 L276.5,307.6 M246.0,325.3 L253.0,266.9 M229.1,280.7 L283.1,303.8 M252.6,321.5 L259.6,263.1 M235.7,276.9 L289.7,300.0 M259.2,317.7 L266.2,259.3 M242.2,273.1 L296.3,296.2 M265.8,313.9 L272.8,255.5 M248.8,269.3 L302.9,292.4 M272.3,310.1 L279.4,251.7 M255.4,265.5 L309.4,288.6 M278.9,306.3 L285.9,247.9 M262.0,261.7 L316.0,284.8 M285.5,302.5 L292.5,244.1 M268.6,257.9 L322.6,281.0 M292.1,298.7 L299.1,240.3 M275.2,254.1 L329.2,277.2 M298.7,294.9 L305.7,236.5 M281.7,250.3 L335.8,273.4 M305.2,291.1 L312.3,232.7 M288.3,246.5 L342.3,269.6 M311.8,287.3 L318.8,228.9 M294.9,242.7 L348.9,265.8 M318.4,283.5 L325.4,225.1 M301.5,238.9 L355.5,262.0 M325.0,279.7 L332.0,221.3 M308.1,235.1 L362.1,258.2 M331.6,275.9 L338.6,217.5 M314.6,231.3 L368.7,254.4 M338.1,272.1 L345.2,213.7 M321.2,227.5 L375.3,250.6 M344.7,268.3 L351.8,209.9 M327.8,223.7 L381.8,246.8 M351.3,264.5 L358.3,206.1 M334.4,219.9 L388.4,243.0 M357.9,260.7 L364.9,202.3 M341.0,216.1 L395.0,239.2 M364.5,256.9 L371.5,198.5 M347.6,212.3 L401.6,235.4 M371.1,253.1 L378.1,194.7 M354.1,208.5 L408.2,231.6 M377.6,249.3 L384.7,190.9 M360.7,204.7 L414.7,227.8 M384.2,245.5 L391.2,187.1 M367.3,200.9 L421.3,224.0 M390.8,241.7 L397.8,183.3 M373.9,197.1 L427.9,220.2 M397.4,237.9 L404.4,179.5 M380.5,193.3 L434.5,216.4 M404.0,234.1 L411.0,175.7 M387.0,189.5 L441.1,212.6 M410.5,230.3 L417.6,171.9 M393.6,185.7 L447.7,208.8 M417.1,226.5 L424.2,168.1 M400.2,181.9 L454.2,205.0 M423.7,222.7 L430.7,164.3 M406.8,178.1 L460.8,201.2 M430.3,218.9 L437.3,160.5 M413.4,174.3 L467.4,197.4 M436.9,215.1 L443.9,156.7 M420.0,170.5 L474.0,193.6 M443.5,211.3 L450.5,152.9 M426.5,166.7 L480.6,189.8 M450.0,207.5 L457.1,149.1 M433.1,162.9 L487.1,186.0 M456.6,203.7 L463.6,145.3 M439.7,159.1 L493.7,182.2 M463.2,199.9 L470.2,141.5 M446.3,155.3 L500.3,178.4 M469.8,196.1 L476.8,137.7 M452.9,151.5 L506.9,174.6 M476.4,192.3 L483.4,133.9 M459.4,147.7 L513.5,170.8 M482.9,188.5 L490.0,130.1 M466.0,143.9 L520.1,167.0 M489.5,184.7 L496.6,126.3 M472.6,140.1 L526.6,163.2 M496.1,180.9 L503.1,122.5 M479.2,136.3 L533.2,159.4 M502.7,177.1 L509.7,118.7 M485.8,132.5 L539.8,155.6 M509.3,173.3 L516.3,114.9 M492.4,128.7 L546.4,151.8 M515.9,169.5 L522.9,111.1 M498.9,124.9 L553.0,148.0 M522.4,165.7 L529.5,107.3" style="fill:none;stroke:#707070;stroke-width:1.0"/></g>
<path class="k" d="M242.2,273.1 L337.5,218.1 M265.8,313.9 L361.0,258.9"/>
<ellipse class="kf" cx="254.0" cy="293.5" rx="14" ry="23.5" transform="rotate(-30 254.0 293.5)"/>
<ellipse cx="255.2" cy="294.5" rx="11.8" ry="20.3" transform="rotate(-30 255.2 294.5)" style="fill:none;stroke:#999;stroke-width:2.4"/>
<ellipse class="kf" style="stroke-width:1.4" cx="255.0" cy="295.5" rx="9.5" ry="17" transform="rotate(-30 255.0 295.5)"/>
<path class="g" d="M246,288 L256,282 M247,291 L254,287"/>
<path class="kf" d="M183.5,315.5 L211.8,299 C220,295 233,293.5 238,304 C241,313 232,325 224,332 L199.5,344.5 Z"/>
<ellipse class="kf" cx="191" cy="330" rx="10.5" ry="16.5" transform="rotate(-30 191 330)"/>
<ellipse class="g" cx="192" cy="330.8" rx="8.3" ry="14" transform="rotate(-30 192 330.8)"/>
<path class="g" d="M185,325 L193,320 M206,337 L225,326 M226,318 L226,327"/>
<path class="gl" d="M214,303 L219,308"/>
</g>
<!-- 18.svg -->
<g id="t18">
<path class="kf" d="M244.9,485.9 L202.4,557.8 A12,12 0 0 0 224.0,570.6 L264.6,502.2 Z"/>
<path d="M243.9,487.6 L241.4,491.9 A12.6,4.5 30.7 0 0 263.0,504.8 L265.6,500.5 A12.6,4.5 30.7 0 1 243.9,487.6 Z" style="fill:#e6e6e6;stroke:#262626;stroke-width:1.5;stroke-linejoin:round"/>
<path class="g" d="M242.6,489.8 A12.6,4.5 30.7 0 0 264.3,502.6" style="stroke:#777;stroke-width:1.3"/>
<path d="M248.4,482.1 L245.8,486.4 A11.6,4.5 30.7 0 0 265.8,498.2 L268.3,493.9 A11.6,4.5 30.7 0 1 248.4,482.1 Z" style="fill:#e6e6e6;stroke:#262626;stroke-width:1.5;stroke-linejoin:round"/>
<path class="g" d="M247.1,484.3 A11.6,4.5 30.7 0 0 267.0,496.1" style="stroke:#777;stroke-width:1.3"/>
<path d="M253.1,476.8 L250.6,481.1 A10.2,4.5 30.7 0 0 268.1,491.5 L270.7,487.2 A10.2,4.5 30.7 0 1 253.1,476.8 Z" style="fill:#e6e6e6;stroke:#262626;stroke-width:1.5;stroke-linejoin:round"/>
<path class="g" d="M251.9,478.9 A10.2,4.5 30.7 0 0 269.4,489.4" style="stroke:#777;stroke-width:1.3"/>
<path class="kf" d="M253.1,476.8 L260.7,473.2 L270.2,478.8 L270.7,487.2 A10.2,4.5 30.7 0 1 253.1,476.8 Z" style="stroke-width:1.5"/>
<path class="kf" d="M260.7,473.2 L266.3,464.8 L274.9,469.9 L270.2,478.8 Z"/>
<path class="kf" d="M272.4,470.8 L294.3,433.7 L288.7,430.3 L266.7,467.4 Z"/>
<g transform="translate(298.8,426) rotate(27.5)">
<path class="gr" d="M0,-12.3 L98,-12.3 A6.5,12.3 0 0 1 98,12.3 L0,12.3 A5,12.3 0 0 1 0,-12.3 Z"/>
<path d="M12.0,-12.3 A5,12.3 0 0 0 12.0,12.3" style="fill:none;stroke:#303030;stroke-width:2.4"/>
<path d="M15.0,-11.3 A5,11.8 0 0 0 15.0,11.3" style="fill:none;stroke:#b8b8b8;stroke-width:1"/>
<path d="M25.5,-12.3 A5,12.3 0 0 0 25.5,12.3" style="fill:none;stroke:#303030;stroke-width:2.4"/>
<path d="M28.5,-11.3 A5,11.8 0 0 0 28.5,11.3" style="fill:none;stroke:#b8b8b8;stroke-width:1"/>
<path d="M39.0,-12.3 A5,12.3 0 0 0 39.0,12.3" style="fill:none;stroke:#303030;stroke-width:2.4"/>
<path d="M42.0,-11.3 A5,11.8 0 0 0 42.0,11.3" style="fill:none;stroke:#b8b8b8;stroke-width:1"/>
<path d="M52.5,-12.3 A5,12.3 0 0 0 52.5,12.3" style="fill:none;stroke:#303030;stroke-width:2.4"/>
<path d="M55.5,-11.3 A5,11.8 0 0 0 55.5,11.3" style="fill:none;stroke:#b8b8b8;stroke-width:1"/>
<path d="M66.0,-12.3 A5,12.3 0 0 0 66.0,12.3" style="fill:none;stroke:#303030;stroke-width:2.4"/>
<path d="M69.0,-11.3 A5,11.8 0 0 0 69.0,11.3" style="fill:none;stroke:#b8b8b8;stroke-width:1"/>
<path d="M79.5,-12.3 A5,12.3 0 0 0 79.5,12.3" style="fill:none;stroke:#303030;stroke-width:2.4"/>
<path d="M82.5,-11.3 A5,11.8 0 0 0 82.5,11.3" style="fill:none;stroke:#b8b8b8;stroke-width:1"/>
<ellipse cx="96" cy="0" rx="6" ry="11.8" style="fill:#9a9a9a;stroke:#303030;stroke-width:1.2"/>
<ellipse cx="97" cy="0.5" rx="4" ry="8" style="fill:#a8a8a8;stroke:#555;stroke-width:1"/>
<ellipse cx="97.5" cy="1" rx="2.2" ry="4.4" style="fill:#9a9a9a;stroke:#666;stroke-width:0.9"/>
</g>
<path class="kf" d="M301,417 C299,411 291,409.5 288,415 C285.5,420 288,428 293,430 L300,433 Z"/>
<ellipse class="kf" cx="291.5" cy="432.5" rx="4.2" ry="3" transform="rotate(28 291.5 432.5)" style="stroke-width:1.2"/>
</g>
</svg>
</body></html>
